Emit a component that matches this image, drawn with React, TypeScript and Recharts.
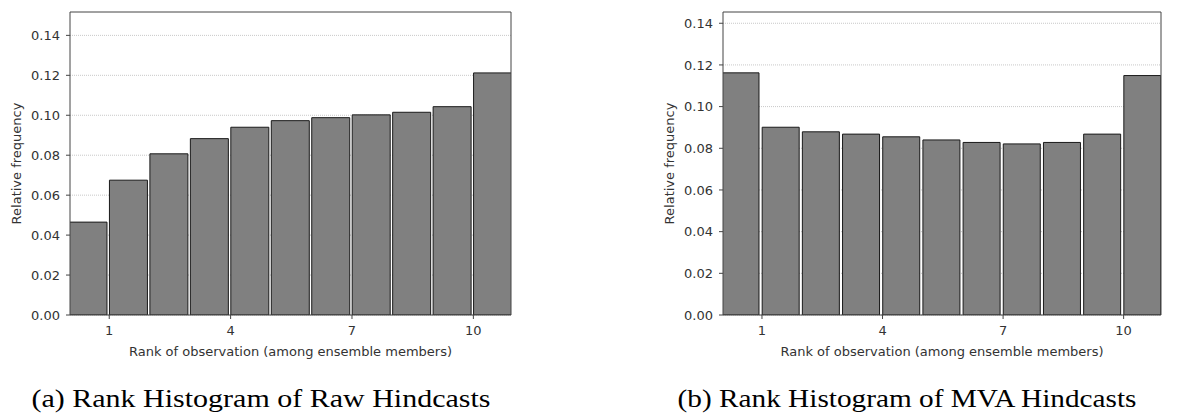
import { BarChart, Bar, XAxis, YAxis, CartesianGrid, ReferenceLine } from "recharts";

// left edge of each rank bin (11 bins for 10 ensemble members)
const binEdges = [0, 1, 2, 3, 4, 5, 6, 7, 8, 9, 10];
const rawFreq = [0.0465, 0.0675, 0.0807, 0.0883, 0.094, 0.0973, 0.0988, 0.1002, 0.1015, 0.1043, 0.1212];
const mvaFreq = [0.1162, 0.0901, 0.0879, 0.0868, 0.0855, 0.084, 0.0828, 0.0821, 0.0828, 0.0868, 0.1149];
const xTicks = [1, 4, 7, 10];
const yTicks = [0, 0.02, 0.04, 0.06, 0.08, 0.1, 0.12, 0.14];
const X_DOMAIN = [0.03, 10.93];

const FONT = "'DejaVu Sans', sans-serif";
const TXT = "#333333";
const SPINE = "#444";

type HistProps = {
  values: number[];
  yMax: number;
  width: number;
};

function RankHist({ values, yMax, width }: HistProps) {
  const data = binEdges.map((e, i) => ({ x: e + 0.47, freq: values[i] }));
  return (
    <BarChart
      width={width}
      height={365}
      data={data}
      margin={{ top: 12, right: 9, left: 0, bottom: 0 }}
      barCategoryGap="3.5%"
      style={{ fontFamily: FONT }}
    >
      <CartesianGrid
        vertical={false}
        stroke="#c8c8c8"
        strokeDasharray="1 1"
        syncWithTicks
      />
      <XAxis
        dataKey="x"
        type="number"
        domain={X_DOMAIN}
        allowDataOverflow
        ticks={xTicks}
        tickSize={4}
        tickMargin={7}
        height={50}
        stroke={SPINE}
        tick={{ fill: TXT, fontSize: 13 }}
        label={{
          value: "Rank of observation (among ensemble members)",
          position: "insideBottom",
          offset: 9,
          fill: TXT,
          fontSize: 13,
        }}
      />
      <YAxis
        domain={[0, yMax]}
        allowDataOverflow
        ticks={yTicks}
        width={70}
        tickSize={4}
        tickMargin={6}
        stroke={SPINE}
        tick={{ fill: TXT, fontSize: 13 }}
        tickFormatter={(v: number) => v.toFixed(2)}
        label={{
          value: "Relative frequency",
          angle: -90,
          position: "center",
          dx: -19,
          fill: TXT,
          fontSize: 13,
        }}
      />
      <Bar
        dataKey="freq"
        fill="#808080"
        stroke="#1a1a1a"
        strokeWidth={1}
        isAnimationActive={false}
      />
      {/* top and right spines */}
      <ReferenceLine y={yMax} stroke={SPINE} strokeWidth={1} />
      <ReferenceLine x={X_DOMAIN[1]} stroke={SPINE} strokeWidth={1} />
    </BarChart>
  );
}

export default function App() {
  return (
    <div
      style={{
        position: "absolute",
        left: 0,
        top: 0,
        width: 1195,
        height: 417,
        background: "#fff",
      }}
    >
      <div style={{ position: "absolute", left: 0, top: 0 }}>
        <RankHist values={rawFreq} yMax={0.1517} width={520} />
      </div>
      <div style={{ position: "absolute", left: 653, top: 0 }}>
        <RankHist values={mvaFreq} yMax={0.1454} width={517} />
      </div>
      <svg
        width={1195}
        height={417}
        style={{ position: "absolute", left: 0, top: 0, pointerEvents: "none" }}
      >
        <text
          x={261}
          y={407}
          textAnchor="middle"
          fontFamily="'Liberation Serif', serif"
          fontSize={26}
          textLength={459}
          lengthAdjust="spacingAndGlyphs"
          fill="#000"
        >
          (a) Rank Histogram of Raw Hindcasts
        </text>
        <text
          x={907}
          y={407}
          textAnchor="middle"
          fontFamily="'Liberation Serif', serif"
          fontSize={26}
          textLength={459}
          lengthAdjust="spacingAndGlyphs"
          fill="#000"
        >
          (b) Rank Histogram of MVA Hindcasts
        </text>
      </svg>
    </div>
  );
}
